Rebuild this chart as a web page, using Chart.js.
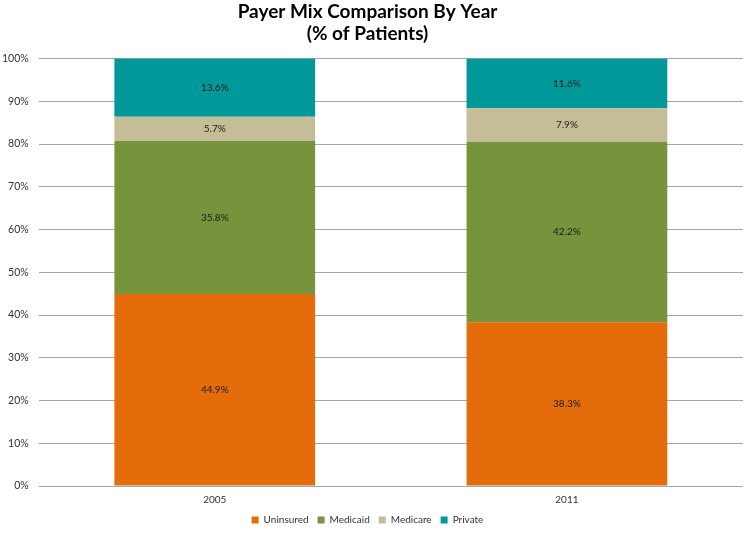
<!DOCTYPE html>
<html>
<head>
<meta charset="utf-8">
<script src="https://cdn.jsdelivr.net/npm/chart.js@4"></script>
<style>
  html, body { margin: 0; padding: 0; background: #fff; }
  #wrap { width: 750px; height: 535px; }
</style>
</head>
<body>
<div id="wrap"><canvas id="payerChart" width="750" height="535"></canvas></div>
<script>
// Payer mix data (% of patients)
const years = ['2005', '2011'];
const uninsured = [44.9, 38.3];
const medicaid = [35.8, 42.2];
const medicare = [5.7, 7.9];
const privateIns = [13.6, 11.6];
const yTicks = [0, 10, 20, 30, 40, 50, 60, 70, 80, 90, 100];

const fontFamily = 'Lato, "Open Sans", sans-serif';

// draws the value in the middle of each bar segment
const segmentLabels = {
  id: 'segmentLabels',
  afterDatasetsDraw(chart) {
    const ctx = chart.ctx;
    ctx.save();
    ctx.font = '10px ' + fontFamily;
    ctx.fillStyle = '#1a1a1a';
    ctx.textAlign = 'center';
    ctx.textBaseline = 'middle';
    chart.data.datasets.forEach((ds, i) => {
      chart.getDatasetMeta(i).data.forEach((bar, j) => {
        const mid = (bar.y + bar.base) / 2;
        ctx.fillText(ds.data[j].toFixed(1) + '%', bar.x, mid);
      });
    });
    ctx.restore();
  }
};

const ctx = document.getElementById('payerChart').getContext('2d');
new Chart(ctx, {
  type: 'bar',
  data: {
    labels: years,
    datasets: [
      { label: 'Uninsured', data: uninsured, backgroundColor: '#E46C0A' },
      { label: 'Medicaid', data: medicaid, backgroundColor: '#77933C' },
      { label: 'Medicare', data: medicare, backgroundColor: '#C4BD97' },
      { label: 'Private', data: privateIns, backgroundColor: '#009999' }
    ]
  },
  options: {
    responsive: false,
    animation: false,
    layout: { padding: { left: -8, right: 7, top: 0, bottom: 0 } },
    datasets: { bar: { categoryPercentage: 0.57, barPercentage: 1.0 } },
    scales: {
      x: {
        stacked: true,
        grid: { display: false },
        border: { display: false },
        ticks: { font: { family: fontFamily, size: 10 }, color: '#333', padding: 0 }
      },
      y: {
        stacked: true,
        min: 0,
        max: 100,
        afterBuildTicks: (axis) => { axis.ticks = yTicks.map(v => ({ value: v })); },
        grid: { color: '#A6A6A6', drawTicks: false },
        border: { display: false },
        ticks: {
          font: { family: fontFamily, size: 10.5 },
          color: '#333',
          padding: 10,
          callback: (v) => v + '%'
        }
      }
    },
    plugins: {
      title: {
        display: true,
        text: ['Payer Mix Comparison By Year', '(% of Patients)'],
        font: { family: fontFamily, size: 19, weight: 'bold' },
        color: '#000',
        lineHeight: 1.12,
        padding: { top: 0, bottom: 13 }
      },
      legend: {
        position: 'bottom',
        labels: {
          font: { family: fontFamily, size: 10 },
          color: '#333',
          boxWidth: 7,
          boxHeight: 7,
          padding: 9
        }
      },
      tooltip: { enabled: false }
    }
  },
  plugins: [segmentLabels]
});
</script>
</body>
</html>
